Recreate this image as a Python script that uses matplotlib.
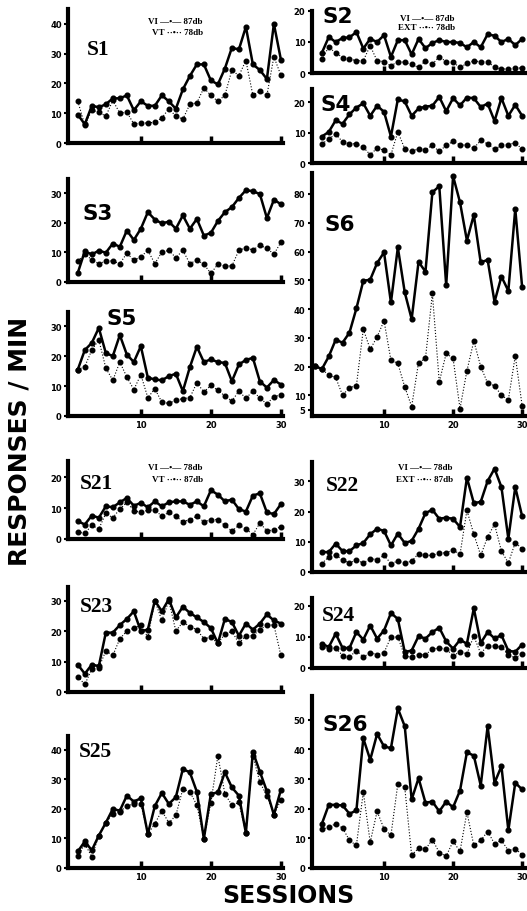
import matplotlib
matplotlib.use("Agg")
import matplotlib.pyplot as plt

# sessions
sessions = list(range(1, 31))
sessions_s6 = list(range(0, 31))

# left column (VI / VT)
s1_vi = [9.5, 6.3, 12.5, 12, 13, 15, 15, 16, 11, 14, 12.5, 12.5, 16, 14, 11.5, 18, 22.5, 26.4, 26.4, 21,
         19.7, 25, 32, 31.4, 39, 26.4, 24.5, 21.5, 40, 28]
s1_vt = [14, 6, 11, 10.4, 9, 14.3, 10, 10.4, 6.4, 6.7, 6.7, 7, 8.4, 11.5, 9, 8, 13, 13.5, 18.5, 16,
         14, 16, 24.5, 22.6, 27.7, 16, 17.5, 16, 29, 22.7]
s3_vi = [3.1, 10.4, 9.3, 10.6, 9.9, 13, 11.9, 17.4, 14.2, 18, 23.6, 21.1, 19.8, 20.4, 18, 22.5, 18, 21.3,
         15.7, 16.6, 20.6, 23.6, 25.3, 28.4, 31, 30.7, 29.7, 21.6, 27.8, 26.3]
s3_vt = [7.1, 9.3, 7.6, 6.2, 7.1, 7.1, 6.2, 9.7, 7.4, 8.5, 10.7, 6.2, 10.1, 10.7, 8.2, 10.7, 6.2, 7.4, 6,
         2.9, 6, 5.4, 5.4, 10.7, 11.6, 10.8, 12.4, 11.4, 9.4, 13.4]
s5_vi = [15.5, 22, 24.4, 29.4, 21, 20, 27, 20.5, 18, 23.3, 12.8, 12.2, 11.9, 13.3, 14.1, 8.3, 16.3, 23.1,
         18, 18.9, 18, 17.7, 11.6, 17.2, 18.7, 19.4, 11.5, 9.5, 12, 10.5]
s5_vt = [15.5, 16.5, 22, 25.4, 16, 11.9, 18, 13, 8.8, 13.8, 6.1, 9.1, 4.6, 4.2, 5.3, 5.8, 6.1, 11.1, 8,
         10.2, 8.6, 6.7, 5, 8.3, 5.9, 8.3, 6, 4, 6.5, 7]
s21_vi = [5.8, 4.7, 7.6, 6.9, 10.6, 10.3, 11.9, 13.3, 10.8, 11.7, 10.3, 12.2, 10.6, 11.9, 12.2, 12.2, 11.1,
          12.2, 10.6, 15.8, 14.4, 12.2, 12.8, 9.7, 8.9, 14.1, 14.8, 8.6, 8.1, 11.3]
s21_vt = [2.2, 1.9, 4.4, 3.3, 8.3, 6.9, 9.7, 11.9, 9.2, 8.6, 9.4, 9.4, 7.4, 8.6, 7.4, 5.6, 6.3, 7.4, 5.6,
          6.3, 6.3, 4.4, 2.6, 4.4, 3.3, 1.4, 5.2, 2.6, 3, 4]
s23_vi = [9, 6, 9, 8.5, 19.5, 19.5, 22, 24, 26.5, 20, 20.5, 30, 26.5, 30.5, 24.5, 28, 26, 24.5, 23, 21,
          16, 24, 23, 18.5, 22.5, 20.5, 22.5, 25.5, 23.5, 22.5]
s23_vt = [5, 2.5, 7.5, 8, 13.5, 12, 17.5, 20, 21, 22, 18, 30, 23.5, 30, 20, 23, 21.5, 20.5, 17.5, 18,
          16, 19, 20, 16, 18.5, 18.5, 20.5, 22, 22, 12]
s25_vi = [5.6, 9, 6, 11, 15.3, 20, 19.4, 24.5, 22.5, 23.6, 11.5, 21, 25.4, 21.7, 24, 33.5, 32.4, 25.8, 9.9,
          25.1, 25.6, 32.4, 27.3, 24.5, 11.9, 39.3, 32.6, 26, 18, 26.5]
s25_vt = [4, 8.2, 3.8, 11, 15.3, 18.3, 19.1, 21, 21.7, 21.7, 11.5, 15, 19.4, 15.3, 17.8, 26.8, 25.8, 21.3,
          9.9, 22, 38, 25.1, 21.3, 22.2, 11.9, 38, 29, 24.5, 18, 23]

# right column (VI / EXT)
s2_vi = [6.5, 11.6, 10, 11.3, 11.5, 13.2, 7.9, 11, 10, 12.2, 5.2, 10.6, 10.6, 6, 11, 8, 9.7, 10.6, 10, 10,
         9.7, 8.3, 10, 8.3, 12.5, 12, 10, 11, 9, 11]
s2_ext = [4.6, 8.3, 6.5, 5, 4.6, 3.9, 4, 8.8, 3.9, 3.7, 2.3, 3.7, 3.4, 2.8, 1.8, 3.9, 2.8, 5.3, 3.6, 3.4,
          1.8, 3.1, 3.9, 3.6, 3.7, 1.8, 1.3, 1.3, 1.6, 1.6]
s4_vi = [8.7, 10.2, 14, 12.9, 16, 18.2, 19.6, 15.5, 18.8, 16.8, 8.7, 20.9, 20.2, 15.5, 17.9, 18.5, 18.8,
         21.7, 17.0, 21.3, 18.9, 21.5, 21.3, 18.4, 19.5, 13.8, 21.3, 15.5, 19.1, 15.5]
s4_ext = [6.3, 7.8, 9.6, 6.9, 6.3, 6.3, 5.2, 2.7, 4.9, 4.2, 2.7, 10.2, 4.7, 3.8, 4.7, 4.4, 5.8, 3.8, 5.8,
          7.1, 6, 5.8, 4.9, 7.4, 6.3, 4.5, 5.8, 6, 6.7, 4.5]
s6_vi = [20.2, 19.1, 23.5, 29.3, 28.3, 31.8, 40.2, 49.8, 50.2, 56, 59.7, 42.3, 61.4, 45.8, 36.5, 56.4, 53,
         80.6, 82.7, 48.3, 86.2, 77.1, 63.8, 72.7, 56.2, 57.1, 42.5, 51.3, 46.3, 74.8, 47.5]
s6_ext = [20.2, 19.1, 17, 16.2, 10, 12.7, 13.3, 33, 26, 30.3, 35.9, 22.2, 21.1, 12.9, 6.1, 21.4, 22.8,
          45.4, 14.6, 24.6, 22.8, 5.4, 18.5, 28.9, 20, 14.2, 13.3, 10, 8.4, 23.7, 6.3]
s22_vi = [6.6, 6.6, 9.4, 6.9, 6.9, 8.8, 9.6, 12.5, 14.3, 13.6, 8.8, 12.7, 9.6, 10.3, 14.3, 19.5, 20.6,
          17.6, 18, 17.6, 14.9, 31.2, 22.8, 23.2, 30.1, 34.2, 28.1, 11, 28.1, 18.4]
s22_ext = [2.8, 5, 5.7, 3.9, 3.1, 3.9, 3, 4.4, 4.1, 5.5, 2.8, 3.6, 3, 3.6, 6.1, 5.5, 5.5, 6.3, 6.3, 7.4,
           5.8, 20.4, 12.5, 5.5, 11.6, 15.8, 6.9, 3, 9.7, 7.7]
s24_vi = [7.8, 6.7, 11, 6.4, 6.4, 11.5, 9.1, 13.6, 9.4, 12, 17.6, 15.7, 5.1, 5.6, 10.2, 9.4, 11.5, 12.9,
          8.5, 6.2, 9, 7.8, 19.1, 8, 11.5, 9.5, 10.5, 5.5, 5.2, 7.5]
s24_ext = [6.7, 6.2, 6.4, 4, 3.5, 5.6, 3.5, 4.9, 4.3, 4.9, 9.9, 9.9, 3.8, 3.5, 4.3, 4.3, 6, 6.4, 6, 4,
           5.1, 4.6, 10.2, 4.6, 7.2, 7, 6.7, 4.3, 3.2, 4.6]
s26_vi = [14.9, 21.3, 21.3, 21.1, 18.3, 19.4, 43.7, 36.5, 45.2, 41, 40.4, 53.8, 47.8, 23.1, 30.3, 22, 22.4,
          19.1, 22.4, 20.5, 26.1, 39, 37.9, 27.8, 47.8, 28.7, 34.3, 12.7, 28.7, 26.5]
s26_ext = [13, 13.8, 14.9, 13.5, 9.3, 7.6, 25.6, 8.7, 19.1, 13.2, 11, 28.4, 27.2, 4.3, 6.7, 6.3, 9.6, 5.2,
           4, 9, 5.6, 18.8, 7.6, 9.3, 12.3, 8.2, 9.3, 5.9, 6.5, 4.5]

W, H = 527, 912
fig = plt.figure(figsize=(W / 100, H / 100), dpi=100)
SERIF = ["Liberation Serif", "DejaVu Serif"]
SANS = ["DejaVu Sans"]
NARROW = ["Liberation Sans Narrow", "DejaVu Sans"]


def px(x, y):
    return x / W, 1 - y / H


def panel(left, right, top, bottom, x, solid, dotted, ylim, yticks, xlabels, xlim):
    ax = fig.add_axes([left / W, 1 - bottom / H, (right - left) / W, (bottom - top) / H])
    ax.plot(x, dotted, color="black", lw=0.8, ls=":", marker="o", ms=3.3, clip_on=False)
    ax.plot(x, solid, color="black", lw=1.8, marker="o", ms=3.4, clip_on=False)
    ax.set_xlim(xlim)
    ax.set_ylim(ylim)
    for s in ["top", "right"]:
        ax.spines[s].set_visible(False)
    for s in ["left", "bottom"]:
        ax.spines[s].set_linewidth(3)
    ax.set_xticks([10, 20, 30])
    if xlabels:
        ax.set_xticklabels(["10", "20", "30"])
    else:
        ax.set_xticklabels([])
    ax.set_yticks(yticks)
    ax.tick_params(axis="x", direction="in", length=5, width=2.5, pad=3, labelsize=6)
    ax.tick_params(axis="y", direction="out", length=3, width=1.5, pad=1.5, labelsize=6)
    for lab in ax.get_xticklabels() + ax.get_yticklabels():
        lab.set_fontweight("heavy")
    return ax


LX = (-0.4, 30.3)
RX = (-0.5, 30.7)
# left column
panel(68, 283, 10, 144, sessions, s1_vi, s1_vt, (0, 45), [0, 10, 20, 30, 40], False, LX)
panel(68, 283, 180, 283, sessions, s3_vi, s3_vt, (0, 34.8), [0, 10, 20, 30], False, LX)
panel(68, 283, 313, 417, sessions, s5_vi, s5_vt, (0, 34.7), [0, 10, 20, 30], True, LX)
panel(68, 283, 462, 540, sessions, s21_vi, s21_vt, (0, 25.3), [0, 10, 20], False, LX)
panel(68, 283, 588, 693, sessions, s23_vi, s23_vt, (0, 34.5), [0, 10, 20, 30], False, LX)
panel(68, 283, 737, 869, sessions, s25_vi, s25_vt, (0, 44.7), [0, 10, 20, 30, 40], True, LX)
# right column
panel(311.5, 527, 12, 74, sessions, s2_vi, s2_ext, (0, 19.7), [0, 10, 20], False, RX)
panel(311.5, 527, 90, 164, sessions, s4_vi, s4_ext, (0, 24.3), [0, 10, 20], False, RX)
panel(311.5, 527, 174, 417, sessions_s6, s6_vi, s6_ext, (2.8, 87.3),
      [5, 10, 20, 30, 40, 50, 60, 70, 80], True, RX)
panel(311.5, 527, 463, 573, sessions, s22_vi, s22_ext, (0, 36.4), [0, 10, 20, 30], False, RX)
panel(311.5, 527, 599, 669, sessions, s24_vi, s24_ext, (0, 22.4), [0, 10, 20], False, RX)
panel(311.5, 527, 697, 869, sessions, s26_vi, s26_ext, (0, 58), [0, 10, 20, 30, 40, 50], True, RX)

# panel names
names = [("S1", 87, 55, SERIF), ("S3", 82, 220, SANS), ("S5", 107, 325, SANS),
         ("S21", 80, 489, SERIF), ("S23", 80, 612, SERIF), ("S25", 79, 757, SERIF),
         ("S2", 322, 23, SANS), ("S4", 320, 111, SANS), ("S6", 325, 231, SANS),
         ("S22", 326, 491, SERIF), ("S24", 322, 621, SERIF), ("S26", 323, 731, SANS)]
for txt, x, y, fam in names:
    fig.text(*px(x, y), txt, family=fam, fontweight="bold", fontsize=15.5, va="baseline", ha="left")

# legends
legends = [(203, 24, "VI —•— 87db"), (203, 35, "VT ··•·· 78db"),
           (455, 21, "VI —•— 87db"), (455, 30, "EXT ··•·· 78db"),
           (203, 470, "VI —•— 78db"), (203, 482, "VT ··•·· 87db"),
           (453, 470, "VI —•— 78db"), (453, 482, "EXT ··•·· 87db")]
for x, y, txt in legends:
    fig.text(*px(x, y), txt, family=SERIF, fontweight="bold", fontsize=6.5, va="baseline", ha="right")

fig.text(*px(20, 441), "RESPONSES / MIN", family=NARROW, fontweight="heavy", fontsize=18,
         rotation=90, ha="center", va="center")
fig.text(*px(288, 896), "SESSIONS", family=NARROW, fontweight="heavy", fontsize=17,
         ha="center", va="center")

fig.savefig("out.png", dpi=100)
